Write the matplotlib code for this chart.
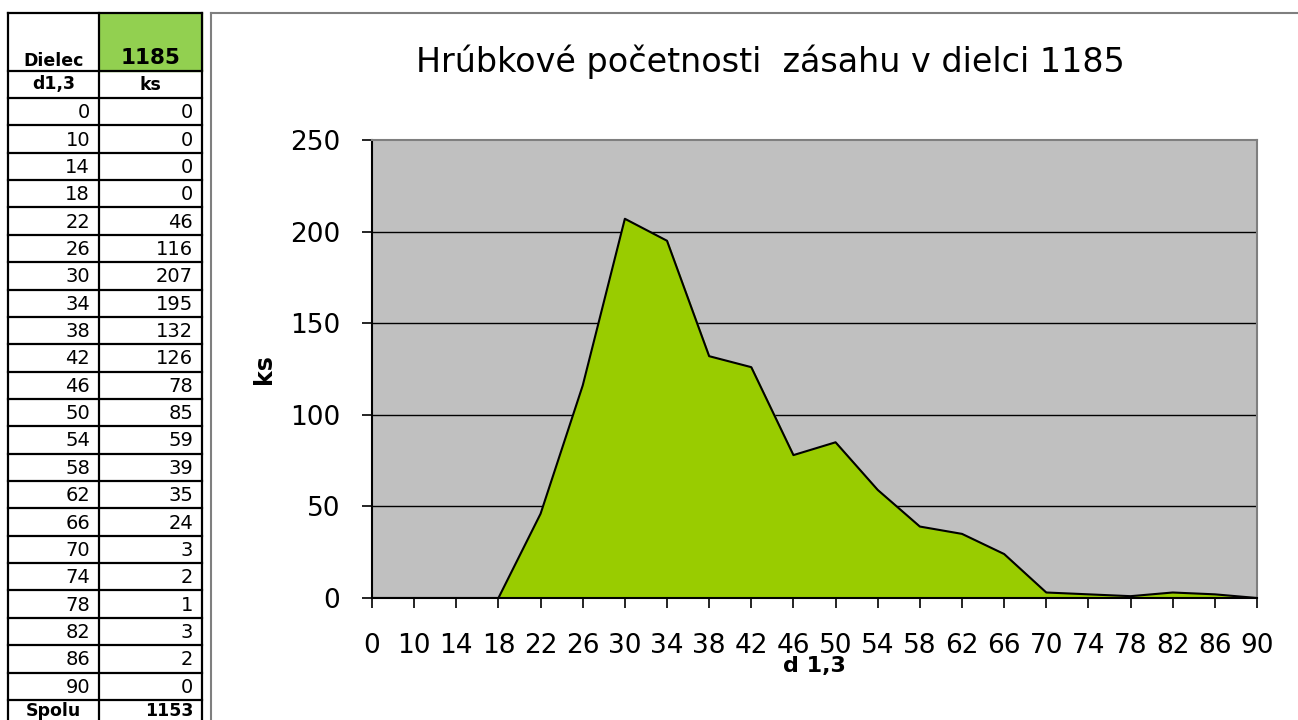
import matplotlib.pyplot as plt
import numpy as np

# data from the sheet
d13 = [0, 10, 14, 18, 22, 26, 30, 34, 38, 42, 46, 50, 54, 58, 62, 66, 70, 74, 78, 82, 86, 90]
ks = [0, 0, 0, 0, 46, 116, 207, 195, 132, 126, 78, 85, 59, 39, 35, 24, 3, 2, 1, 3, 2, 0]
dielec = "1185"
title = "Hrúbkové početnosti  zásahu v dielci " + dielec

plt.rcParams['font.family'] = ['DejaVu Sans']

W, H = 1298, 720
fig = plt.figure(figsize=(W / 100, H / 100), dpi=100)

# background layer in pixel coordinates (table + chart frame)
bg = fig.add_axes([0, 0, 1, 1], zorder=0)
bg.set_xlim(0, W)
bg.set_ylim(H, 0)
bg.axis('off')

# --- table on the left ---
x0, x1, x2 = 8, 99, 202
top, hdr, sub = 13, 71, 98
rh = 27.36
bg.add_patch(plt.Rectangle((x1, top), x2 - x1, hdr - top, color='#92D050', zorder=0))
ys = [top, hdr, sub] + [sub + rh * (k + 1) for k in range(len(d13))]
for y in ys:
    bg.plot([x0, x2], [y, y], color='black', lw=1.6, solid_capstyle='projecting')
for x in (x0, x1, x2):
    bg.plot([x, x], [top, H + 5], color='black', lw=1.6, solid_capstyle='projecting')

bg.text((x0 + x1) / 2, 66, "Dielec", ha='center', va='baseline', fontsize=12.5, fontweight='bold')
bg.text((x1 + x2) / 2, 64, dielec, ha='center', va='baseline', fontsize=15.5, fontweight='bold')
bg.text((x0 + x1) / 2, (hdr + sub) / 2, "d1,3", ha='center', va='center', fontsize=12.5, fontweight='bold')
bg.text((x1 + x2) / 2, (hdr + sub) / 2, "ks", ha='center', va='center', fontsize=12.5, fontweight='bold')
for k, (d, v) in enumerate(zip(d13, ks)):
    yc = sub + rh * (k + 0.5) + 1
    bg.text(x1 - 9, yc, str(d), ha='right', va='center', fontsize=14)
    bg.text(x2 - 9, yc, str(v), ha='right', va='center', fontsize=14)
yc = sub + rh * (len(d13) + 0.5) - 3
bg.text((x0 + x1) / 2, yc, "Spolu", ha='center', va='center', fontsize=12.5, fontweight='bold')
bg.text(x2 - 9, yc, str(sum(ks)), ha='right', va='center', fontsize=12.5, fontweight='bold')

# chart frame
bg.plot([211, W + 5], [12.5, 12.5], color='#7f7f7f', lw=1.5)
bg.plot([211, 211], [12.5, H + 5], color='#7f7f7f', lw=1.5)

bg.text(770, 72, title, ha='center', va='baseline', fontsize=24)

# --- area chart ---
L, R, T, B = 372, 1257, 140, 598
ax = fig.add_axes([L / W, 1 - B / H, (R - L) / W, (B - T) / H], zorder=1)
ax.set_facecolor('#C0C0C0')
xs = np.arange(len(d13))
ax.fill_between(xs, ks, 0, color='#99CC00', zorder=2)
ax.plot(xs, ks, color='black', lw=1.5, zorder=3)
ax.set_xlim(0, len(d13) - 1)
ax.set_ylim(0, 250)
ax.set_yticks(range(0, 251, 50))
ax.set_xticks(xs)
ax.set_xticklabels([str(d) for d in d13])
for y in range(50, 250, 50):
    ax.axhline(y, color='black', lw=1.0, zorder=1)
ax.tick_params(axis='x', direction='out', length=7, width=1.2, pad=18, labelsize=19)
ax.tick_params(axis='y', direction='out', length=7, width=1.2, pad=16, labelsize=19)
for s in ('left', 'bottom'):
    ax.spines[s].set_color('black')
    ax.spines[s].set_linewidth(1.5)
for s in ('top', 'right'):
    ax.spines[s].set_color('#7f7f7f')
    ax.spines[s].set_linewidth(1.5)
ax.set_ylabel("ks", fontsize=17, fontweight='bold', labelpad=10)
ax.set_xlabel("d 1,3", fontsize=16, fontweight='bold', labelpad=-2)

fig.savefig("out.png", dpi=100)
